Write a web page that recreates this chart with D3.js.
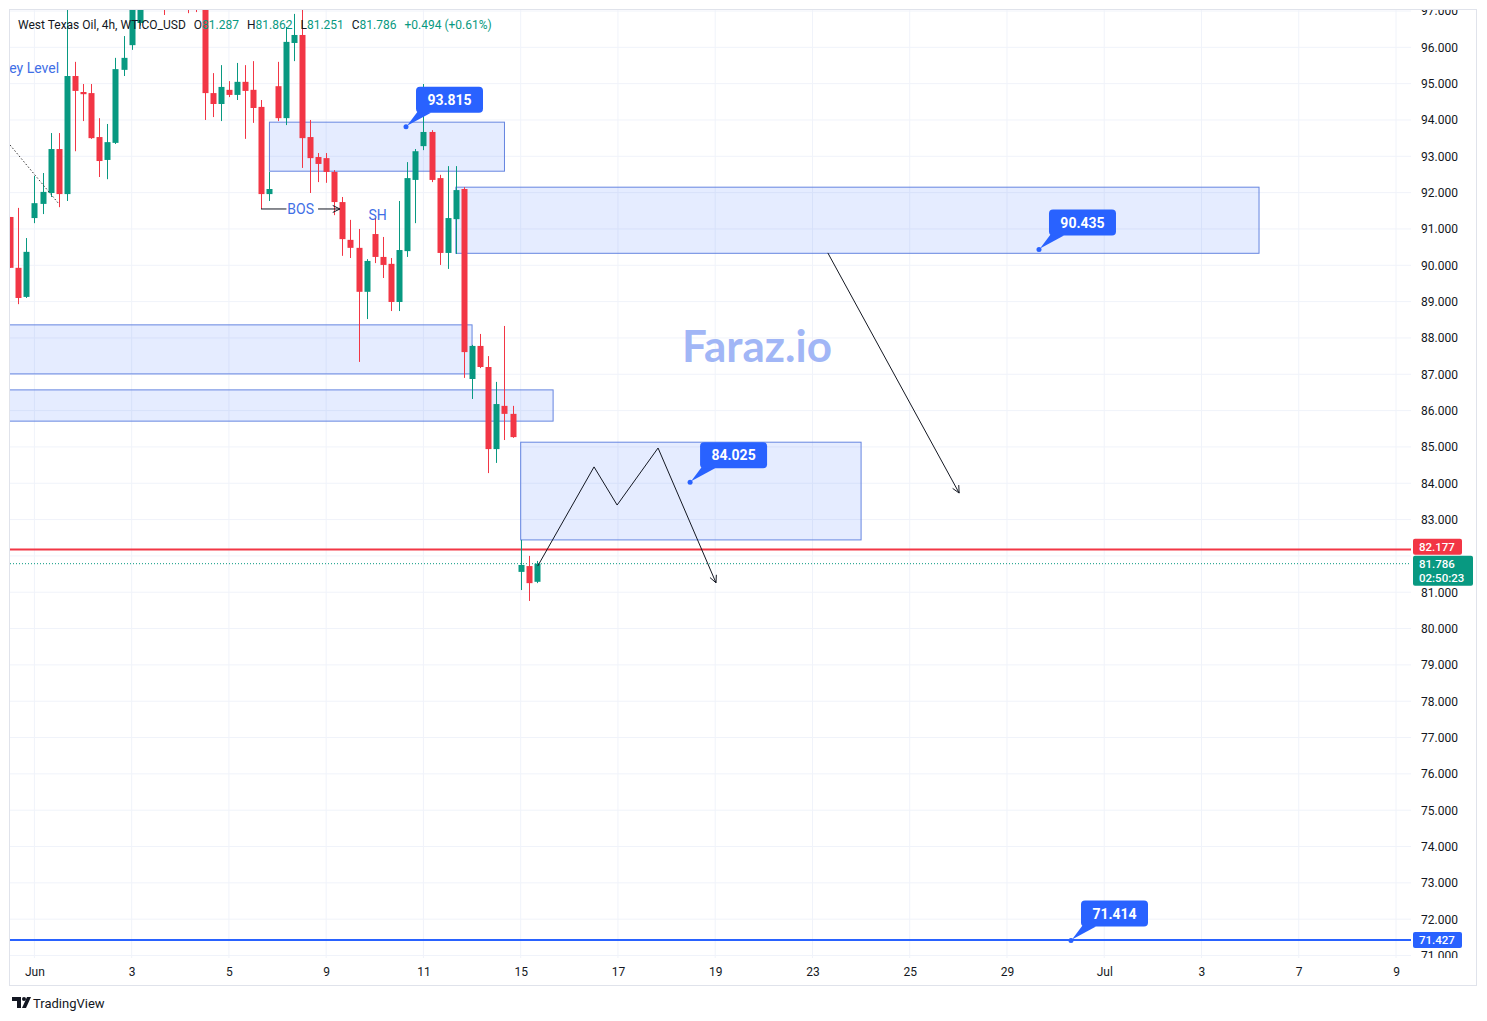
<!DOCTYPE html>
<html>
<head>
<meta charset="utf-8">
<script src="https://cdn.jsdelivr.net/npm/d3@7"></script>
<style>
  body { margin: 0; background: #fff; }
  svg { display: block; font-family: Roboto, "Noto Sans", sans-serif; }
</style>
</head>
<body>
<div id="chart"></div>
<script>
// 4h candles, first visible bar is index -3 (bar 0 = Jun 1 open)
var firstBar = -3;
var opens = [91.33, 89.93, 89.13, 91.30, 91.69, 91.99, 93.20, 91.96, 95.21, 94.77, 94.74, 93.53, 92.90, 93.37, 95.38, 96.06,
  96.67, 97.50, 98.20, 98.60, 97.60, 98.30, 98.40, 97.70, 97.30, 94.74, 94.44, 94.83, 94.69, 95.05, 94.83, 94.36,
  91.96, 94.93, 94.05, 96.12, 96.34, 93.53, 92.98, 92.95, 92.57, 91.74, 90.70, 90.48, 89.27, 90.86, 90.23, 90.04,
  88.99, 90.39, 92.35, 93.28, 93.67, 92.40, 90.34, 91.27, 92.10, 86.87, 87.78, 87.20, 84.94, 86.13, 85.91, 81.56,
  81.72, 81.287];
var highs = [91.33, 91.58, 90.75, 92.46, 92.54, 93.64, 93.64, 97.08, 95.60, 94.99, 94.99, 94.05, 93.89, 95.71, 96.31, 97.30,
  97.70, 98.50, 98.90, 98.80, 98.60, 98.70, 98.60, 97.90, 97.50, 95.29, 95.51, 95.07, 95.57, 95.51, 95.62, 94.55,
  92.57, 95.60, 96.56, 96.92, 97.16, 94.00, 93.09, 93.09, 92.62, 91.88, 91.25, 91.00, 90.17, 91.30, 90.78, 90.20,
  91.77, 92.84, 93.20, 94.99, 93.72, 92.49, 92.73, 92.73, 92.15, 87.81, 88.11, 87.50, 86.79, 88.33, 86.13, 82.44,
  82.00, 81.862];
var lows = [89.93, 88.93, 89.10, 91.16, 91.41, 91.88, 91.60, 91.77, 93.14, 93.97, 93.48, 92.43, 92.37, 93.34, 95.21, 95.93,
  96.60, 97.30, 98.00, 96.89, 97.40, 97.90, 96.94, 96.97, 94.00, 94.08, 93.97, 94.63, 94.55, 93.48, 93.92, 91.55,
  91.77, 93.97, 93.86, 95.62, 92.68, 91.99, 92.29, 92.27, 91.38, 90.26, 90.20, 87.34, 88.52, 90.06, 89.65, 88.74,
  88.74, 90.23, 91.16, 93.17, 92.29, 90.01, 89.90, 90.31, 86.90, 86.32, 87.17, 84.28, 84.56, 85.19, 85.25, 81.06,
  80.76, 81.251];
var closes = [89.93, 89.10, 90.37, 91.71, 92.02, 93.20, 91.96, 95.21, 94.80, 94.71, 93.50, 92.87, 93.39, 95.40, 95.71, 97.16,
  97.50, 98.20, 98.60, 97.60, 98.30, 98.40, 97.70, 97.30, 94.74, 94.44, 94.91, 94.69, 95.05, 94.80, 94.33, 91.96,
  92.10, 94.05, 96.15, 96.34, 93.50, 92.95, 92.79, 92.57, 91.74, 90.72, 90.48, 89.27, 90.12, 90.23, 90.01, 88.99,
  90.42, 92.40, 93.14, 93.67, 92.35, 90.34, 91.30, 92.07, 87.61, 87.78, 87.20, 84.94, 86.18, 85.91, 85.27, 81.75,
  81.25, 81.786];

// time axis: one label every 2 trading days (12 bars)
var dayLabels = ["Jun", "3", "5", "9", "11", "15", "17", "19", "23", "25", "29", "Jul", "3", "7", "9"];
var barsPerLabel = 12;
var priceTicks = d3.range(71, 98);

// drawings
var zones = [
  {from: 29, to: 58, top: 93.94, bottom: 92.59},
  {from: 52, to: 151.1, top: 92.15, bottom: 90.33},
  {from: -10, to: 54, top: 88.36, bottom: 87.01},
  {from: -10, to: 64, top: 86.57, bottom: 85.71},
  {from: 60, to: 102, top: 85.13, bottom: 82.44}
];
var calloutValues = [93.815, 90.435, 84.025, 71.414];
var calloutBars = [45.85, 123.95, 80.9, 127.9];
var zigzagBars = [62.1, 69.05, 71.9, 76.95, 84.1];
var zigzagPrices = [81.72, 84.45, 83.40, 84.97, 81.26];
var arrowBars = [97.9, 114.1];
var arrowPrices = [90.34, 83.73];
var redLevel = 82.177, lastClose = 81.786, blueLevel = 71.427;

var svgWidth = 1487, svgHeight = 1021;
var plot = {left: 10, right: 1411, top: 10, bottom: 958};
var green = "#089981", red = "#f23645", blue = "#2962ff", textBlue = "#3f6fe6";

var svg = d3.select("#chart").append("svg")
  .attr("width", svgWidth)
  .attr("height", svgHeight);

var xScale = d3.scaleLinear().domain([0, 168]).range([34.4, 1396]);
var yScale = d3.scaleLinear().domain([71, 97]).range([955.5, 11]);

var defs = svg.append("defs");
defs.append("clipPath").attr("id", "plotClip").append("rect")
  .attr("x", plot.left).attr("y", plot.top)
  .attr("width", plot.right - plot.left).attr("height", plot.bottom - plot.top);
defs.append("clipPath").attr("id", "axisClip").append("rect")
  .attr("x", plot.right).attr("y", plot.top)
  .attr("width", 66).attr("height", plot.bottom - plot.top);

// grid
var grid = svg.append("g").attr("clip-path", "url(#plotClip)");
grid.selectAll(".hgrid").data(priceTicks).enter().append("line")
  .attr("x1", plot.left).attr("x2", plot.right)
  .attr("y1", d => yScale(d)).attr("y2", d => yScale(d))
  .attr("stroke", "#f0f3fa");
grid.selectAll(".vgrid").data(dayLabels).enter().append("line")
  .attr("x1", (d, k) => xScale(k * barsPerLabel)).attr("x2", (d, k) => xScale(k * barsPerLabel))
  .attr("y1", plot.top).attr("y2", plot.bottom)
  .attr("stroke", "#f0f3fa");

// frame
svg.append("rect")
  .attr("x", 9.5).attr("y", 9.5).attr("width", 1467).attr("height", 976)
  .attr("fill", "none").attr("stroke", "#e0e3eb");

var chartGroup = svg.append("g").attr("clip-path", "url(#plotClip)");

// watermark
chartGroup.append("text")
  .attr("x", 757).attr("y", 362)
  .attr("text-anchor", "middle")
  .attr("font-family", "Lato, Roboto, sans-serif")
  .attr("font-weight", 700).attr("font-size", 44)
  .attr("fill", "#a1b6f6")
  .text("Faraz.io");

// zones
chartGroup.selectAll(".zone").data(zones).enter().append("rect")
  .attr("x", d => xScale(d.from))
  .attr("y", d => yScale(d.top))
  .attr("width", d => xScale(d.to) - xScale(d.from))
  .attr("height", d => yScale(d.bottom) - yScale(d.top))
  .attr("fill", "rgba(41,98,255,0.12)")
  .attr("stroke", "#6585e0");

// levels
chartGroup.append("line")
  .attr("x1", plot.left).attr("x2", plot.right + 4)
  .attr("y1", yScale(redLevel)).attr("y2", yScale(redLevel))
  .attr("stroke", red).attr("stroke-width", 2);
chartGroup.append("line")
  .attr("x1", plot.left).attr("x2", plot.right + 4)
  .attr("y1", yScale(lastClose)).attr("y2", yScale(lastClose))
  .attr("stroke", green).attr("stroke-dasharray", "1,2");
chartGroup.append("line")
  .attr("x1", plot.left).attr("x2", plot.right + 4)
  .attr("y1", yScale(blueLevel)).attr("y2", yScale(blueLevel))
  .attr("stroke", blue).attr("stroke-width", 2);

// candles
var candles = opens.map(function(o, k) {
  return {i: firstBar + k, o: o, h: highs[k], l: lows[k], c: closes[k]};
});
var candleGroup = chartGroup.selectAll(".candle").data(candles).enter().append("g");
candleGroup.append("line")
  .attr("x1", d => Math.round(xScale(d.i)) + 0.5)
  .attr("x2", d => Math.round(xScale(d.i)) + 0.5)
  .attr("y1", d => yScale(d.h)).attr("y2", d => yScale(d.l))
  .attr("stroke", d => d.c >= d.o ? green : red);
candleGroup.append("rect")
  .attr("x", d => Math.round(xScale(d.i)) - 2.5)
  .attr("width", 6)
  .attr("y", d => yScale(Math.max(d.o, d.c)))
  .attr("height", d => Math.max(1, Math.abs(yScale(d.o) - yScale(d.c))))
  .attr("fill", d => d.c >= d.o ? green : red);

// helper for open arrow heads
function arrowHead(g, x1, y1, x2, y2) {
  var ang = Math.atan2(y2 - y1, x2 - x1), len = 8, spread = Math.PI / 7;
  [1, -1].forEach(function(s) {
    g.append("line")
      .attr("x1", x2).attr("y1", y2)
      .attr("x2", x2 - len * Math.cos(ang + s * spread))
      .attr("y2", y2 - len * Math.sin(ang + s * spread))
      .attr("stroke", "#131722");
  });
}

// zigzag path
var zig = zigzagBars.map((b, k) => [xScale(b), yScale(zigzagPrices[k])]);
chartGroup.append("path")
  .attr("d", d3.line()(zig))
  .attr("fill", "none").attr("stroke", "#131722");
arrowHead(chartGroup, zig[3][0], zig[3][1], zig[4][0], zig[4][1]);

// long arrow
var arr = arrowBars.map((b, k) => [xScale(b), yScale(arrowPrices[k])]);
chartGroup.append("path")
  .attr("d", d3.line()(arr))
  .attr("fill", "none").attr("stroke", "#131722");
arrowHead(chartGroup, arr[0][0], arr[0][1], arr[1][0], arr[1][1]);

// dotted trend line (upper left)
chartGroup.append("line")
  .attr("x1", xScale(-3)).attr("y1", yScale(93.31))
  .attr("x2", xScale(2.91)).attr("y2", yScale(91.72))
  .attr("stroke", "#333").attr("stroke-dasharray", "1.5,2");

// BOS
var bosY = yScale(91.55);
chartGroup.append("line")
  .attr("x1", xScale(27.96)).attr("x2", xScale(31.1))
  .attr("y1", bosY).attr("y2", bosY).attr("stroke", "#131722");
chartGroup.append("line")
  .attr("x1", xScale(35)).attr("x2", xScale(37.7))
  .attr("y1", bosY).attr("y2", bosY).attr("stroke", "#131722");
arrowHead(chartGroup, xScale(35), bosY, xScale(37.7), bosY);
chartGroup.append("text")
  .attr("x", xScale(32.85)).attr("y", bosY)
  .attr("dy", "0.35em").attr("text-anchor", "middle")
  .attr("font-size", 14).attr("fill", textBlue)
  .text("BOS");
chartGroup.append("text")
  .attr("x", xScale(42.36)).attr("y", yScale(91.38))
  .attr("dy", "0.35em").attr("text-anchor", "middle")
  .attr("font-size", 14).attr("fill", textBlue)
  .text("SH");
chartGroup.append("text")
  .attr("x", xScale(3.05)).attr("y", yScale(95.43))
  .attr("dy", "0.35em").attr("text-anchor", "end")
  .attr("font-size", 14).attr("fill", textBlue)
  .text("Key Level");

// callouts
calloutValues.forEach(function(v, k) {
  var dx = xScale(calloutBars[k]), dy = yScale(v);
  var bx = dx + 10, bh = 26, bw = 67, by = dy - 14 - bh;
  var g = chartGroup.append("g");
  g.append("path")
    .attr("d", `M${bx + 3},${by + bh - 3} L${bx + 15},${by + bh} L${dx + 1},${dy - 1} Z`)
    .attr("fill", blue);
  g.append("circle").attr("cx", dx).attr("cy", dy).attr("r", 2.5).attr("fill", blue);
  g.append("rect")
    .attr("x", bx).attr("y", by).attr("width", bw).attr("height", bh)
    .attr("rx", 4).attr("fill", blue);
  g.append("text")
    .attr("x", bx + bw / 2).attr("y", by + bh / 2)
    .attr("dy", "0.36em").attr("text-anchor", "middle")
    .attr("font-size", 14).attr("font-weight", 700).attr("fill", "#fff")
    .text(v.toFixed(3));
});

// price labels on the axis; ticks hidden under them are dropped
var closeTop = yScale(lastClose) - 8;
var tagBoxes = [
  {y: closeTop - 17, h: 16, w: 49, color: red, lines: [redLevel.toFixed(3)]},
  {y: closeTop, h: 30, w: 60, color: green, lines: [lastClose.toFixed(3), "02:50:23"]},
  {y: yScale(blueLevel) - 8, h: 16, w: 49, color: blue, lines: [blueLevel.toFixed(3)]}
];
function underTag(v) {
  var yy = yScale(v);
  return tagBoxes.some(t => yy > t.y - 2 && yy < t.y + t.h + 2);
}

var yAxis = d3.axisRight(yScale)
  .tickValues(priceTicks.filter(v => !underTag(v)))
  .tickFormat(d3.format(".3f"))
  .tickSize(0)
  .tickPadding(10);
svg.append("g")
  .attr("clip-path", "url(#axisClip)")
  .append("g")
  .attr("transform", `translate(${plot.right},0)`)
  .call(yAxis)
  .call(g => g.select(".domain").remove())
  .selectAll("text")
  .attr("font-family", "Roboto, sans-serif")
  .attr("font-size", 12)
  .attr("fill", "#131722");

tagBoxes.forEach(function(t) {
  svg.append("rect")
    .attr("x", 1413).attr("y", t.y).attr("width", t.w).attr("height", t.h)
    .attr("rx", 2).attr("fill", t.color);
  t.lines.forEach(function(s, k) {
    svg.append("text")
      .attr("x", 1419).attr("y", t.y + 8 + k * 14)
      .attr("dy", "0.36em")
      .attr("font-size", 11.5).attr("font-weight", 500).attr("fill", "#fff")
      .text(s);
  });
});

// time axis
var xAxis = d3.axisBottom(xScale)
  .tickValues(dayLabels.map((d, k) => k * barsPerLabel))
  .tickFormat((d, k) => dayLabels[k])
  .tickSize(0)
  .tickPadding(9);
svg.append("g")
  .attr("transform", `translate(0,${plot.bottom})`)
  .call(xAxis)
  .call(g => g.select(".domain").remove())
  .selectAll("text")
  .attr("font-family", "Roboto, sans-serif")
  .attr("font-size", 12)
  .attr("fill", "#131722");

// legend header
var header = svg.append("text")
  .attr("x", 18).attr("y", 29)
  .attr("font-size", 12).attr("fill", "#131722");
header.append("tspan").text("West Texas Oil, 4h, WTICO_USD");
[["O", opens[opens.length - 1]], ["H", highs[highs.length - 1]], ["L", lows[lows.length - 1]], ["C", closes[closes.length - 1]]]
  .forEach(function(p) {
    header.append("tspan").attr("dx", 8).text(p[0]);
    header.append("tspan").attr("fill", green).text(p[1].toFixed(3));
  });
header.append("tspan").attr("dx", 8).attr("fill", green).text("+0.494 (+0.61%)");

// TradingView logo
var logo = svg.append("g").attr("fill", "#131722");
logo.append("path").attr("d", "M12,997 h9 v11 h-4 v-7 h-5 z");
logo.append("circle").attr("cx", 24).attr("cy", 999).attr("r", 2);
logo.append("path").attr("d", "M27,997 h4 l-5,11 h-4 z");
svg.append("text")
  .attr("x", 33).attr("y", 1007.5)
  .attr("font-size", 13).attr("fill", "#131722")
  .text("TradingView");
</script>
</body>
</html>
